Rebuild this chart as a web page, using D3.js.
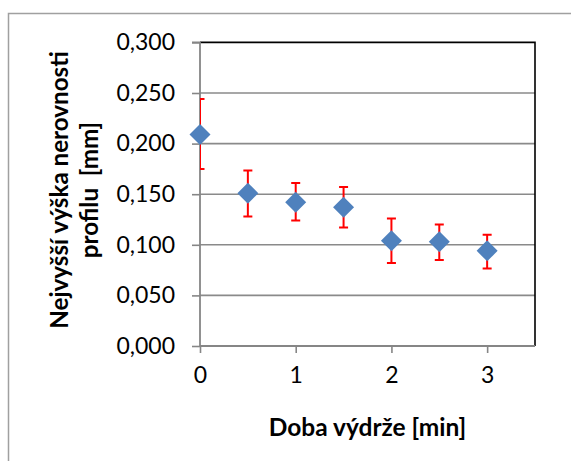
<!DOCTYPE html>
<html><head><meta charset="utf-8">
<script src="https://cdn.jsdelivr.net/npm/d3@7"></script>
<style>html,body{margin:0;padding:0;background:#fff;overflow:hidden}</style>
</head><body>
<svg id="c" width="571" height="461"></svg>
<script>
const xValues = [0, 0.5, 1, 1.5, 2, 2.5, 3];
const yValues = [0.209, 0.151, 0.142, 0.137, 0.104, 0.103, 0.094];
const errUpper = [0.244, 0.1735, 0.161, 0.157, 0.126, 0.120, 0.110];
const errLower = [0.175, 0.128, 0.124, 0.117, 0.082, 0.085, 0.0765];
const yTicks = [0, 0.05, 0.1, 0.15, 0.2, 0.25, 0.3];
const xTicks = [0, 1, 2, 3];
const yTitle1 = "Nejvyšší výška nerovnosti";
const yTitle2 = "profilu  [mm]";
const xTitle = "Doba výdrže [min]";

const svg = d3.select("#c");
const font = "Lato, 'Open Sans', sans-serif";
const L = 200, R = 535, T = 42.4, B = 346;
const x = d3.scaleLinear().domain([0, 3.5]).range([L, R]);
const y = d3.scaleLinear().domain([0, 0.3]).range([B, T]);
const fmt = v => d3.format(".3f")(v).replace(".", ",");

// outer frame
svg.append("rect").attr("x", 8.5).attr("y", 13.5).attr("width", 700).attr("height", 700)
  .attr("fill", "#fff").attr("stroke", "#a0a0a0").attr("stroke-width", 1.5);

// gridlines
svg.append("g").selectAll("line").data(yTicks.filter(d => d > 0 && d < 0.3)).join("line")
  .attr("x1", L).attr("x2", R).attr("y1", d => y(d)).attr("y2", d => y(d))
  .attr("stroke", "#8a8a8a").attr("stroke-width", 1.6);

// plot border top/right (black)
svg.append("path").attr("d", `M${L},${y(0.3)}H${R}V${B}`)
  .attr("fill", "none").attr("stroke", "#000").attr("stroke-width", 1.6);

// axes
const yAxis = svg.append("g").attr("transform", `translate(${L},0)`)
  .call(d3.axisLeft(y).tickValues(yTicks).tickFormat(fmt).tickSize(8).tickPadding(17));
const xAxis = svg.append("g").attr("transform", `translate(0,${B})`)
  .call(d3.axisBottom(x).tickValues(xTicks).tickFormat(d3.format("d")).tickSize(7).tickPadding(14));
[yAxis, xAxis].forEach(a => {
  a.select(".domain").attr("stroke", "#868686").attr("stroke-width", 1.8);
  a.selectAll(".tick line").attr("stroke", "#868686").attr("stroke-width", 1.6);
  a.selectAll("text").attr("font-family", font).attr("font-size", 23).attr("fill", "#000");
});
yAxis.select(".domain").attr("d", `M-8,${y(0.3)}H0V${B}`);
xAxis.select(".domain").attr("d", `M${L},0H${R}`);

// error bars (clipped)
svg.append("clipPath").attr("id", "clip").append("rect")
  .attr("x", L).attr("y", T).attr("width", R - L).attr("height", B - T);
const eb = svg.append("g").attr("clip-path", "url(#clip)")
  .attr("stroke", "#ff0000").attr("stroke-width", 2).attr("fill", "none");
xValues.forEach((xv, i) => {
  const cx = x(xv);
  eb.append("path").attr("d",
    `M${cx},${y(errLower[i])}V${y(errUpper[i])}` +
    `M${cx - 4.5},${y(errUpper[i])}H${cx + 4.5}` +
    `M${cx - 4.5},${y(errLower[i])}H${cx + 4.5}`);
});

// markers
svg.append("g").selectAll("path").data(xValues).join("path")
  .attr("d", (d, i) => {
    const cx = x(d), cy = y(yValues[i]), r = 10.5;
    return `M${cx},${cy - r}L${cx + r},${cy}L${cx},${cy + r}L${cx - r},${cy}Z`;
  })
  .attr("fill", "#4f81bd");

// titles
svg.append("text").attr("x", (L + R) / 2).attr("y", 436).attr("text-anchor", "middle")
  .attr("font-family", font).attr("font-weight", "bold").attr("font-size", 24.5).text(xTitle);
const yt = svg.append("g").attr("transform", `translate(0,${190}) rotate(-90)`);
yt.append("text").attr("x", 0).attr("y", 68).attr("text-anchor", "middle")
  .attr("font-family", font).attr("font-weight", "bold").attr("font-size", 24.2).text(yTitle1);
yt.append("text").attr("x", 0).attr("y", 98).attr("text-anchor", "middle")
  .attr("font-family", font).attr("font-weight", "bold").attr("font-size", 24.2).attr("xml:space", "preserve").text(yTitle2);
</script>
</body></html>
